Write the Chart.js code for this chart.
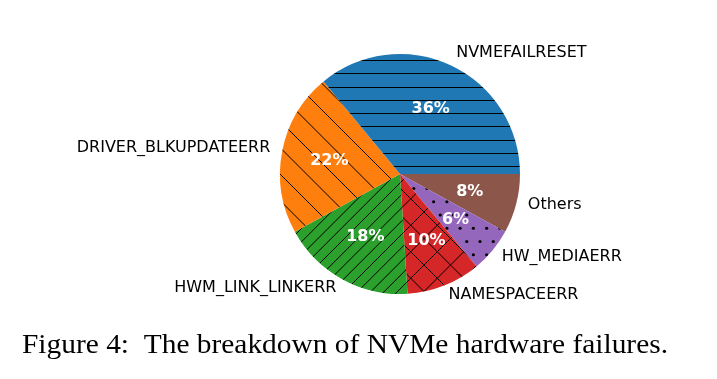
<!DOCTYPE html>
<html>
<head>
<meta charset="utf-8">
<script src="https://cdn.jsdelivr.net/npm/chart.js@4.4.1/dist/chart.umd.min.js"></script>
<style>
  html, body { margin: 0; padding: 0; background: #ffffff; }
  #wrap { width: 717px; height: 379px; position: relative; }
</style>
</head>
<body>
<div id="wrap"><canvas id="pieChart" width="717" height="379"></canvas></div>
<script>
// values in matplotlib order (counter-clockwise from 3 o'clock)
const categories = ['NVMEFAILRESET', 'DRIVER_BLKUPDATEERR', 'HWM_LINK_LINKERR', 'NAMESPACEERR', 'HW_MEDIAERR', 'Others'];
const shares = [36, 22, 18, 10, 6, 8];
const sliceColors = ['#1f77b4', '#ff7f0e', '#2ca02c', '#d62728', '#9467bd', '#8c564b'];
const hatches = ['-', '\\', '//', 'x', '.', ''];
const captionText = 'Figure 4:  The breakdown of NVMe hardware failures.';

function makeHatch(color, hatch) {
    if (!hatch) return color;
    const size = 53;
    const step = 13.25;
    const c = document.createElement('canvas');
    c.width = size;
    c.height = size;
    const g = c.getContext('2d');
    g.fillStyle = color;
    g.fillRect(0, 0, size, size);
    g.strokeStyle = '#000000';
    g.fillStyle = '#000000';
    g.lineWidth = 1;
    g.beginPath();
    if (hatch === '-') {
        for (let k = 0; k < 4; k++) {
            const y = Math.round(7 + k * step) + 0.5;
            g.moveTo(0, y);
            g.lineTo(size, y);
        }
    }
    // single diagonal hatches are twice as sparse as the horizontal ones
    if (hatch === '\\' || hatch === 'x') {
        for (let k = -2; k <= 2; k++) {
            const x0 = k * step * 2;
            g.moveTo(x0, 0);
            g.lineTo(x0 + size, size);
        }
    }
    if (hatch === '//') {
        for (let k = -4; k <= 8; k++) {
            const x0 = k * step;
            g.moveTo(x0, size);
            g.lineTo(x0 + size, 0);
        }
    }
    if (hatch === 'x') {
        for (let k = -2; k <= 4; k++) {
            const x0 = k * step * 2;
            g.moveTo(x0, size);
            g.lineTo(x0 + size, 0);
        }
    }
    g.stroke();
    if (hatch === '.') {
        for (let r = 0; r < 4; r++) {
            for (let k = -1; k <= 4; k++) {
                const x = k * step + (r % 2 ? step / 2 : 0) + 3;
                const y = r * step + 3;
                g.beginPath();
                g.arc(x, y, 1.6, 0, Math.PI * 2);
                g.fill();
            }
        }
    }
    return g.createPattern(c, 'repeat');
}

// Chart.js goes clockwise, so feed the slices reversed and start at 3 o'clock
const order = categories.map((_, i) => i).reverse();

const pieLabels = {
    id: 'pieLabels',
    afterDraw(chart) {
        const ctx = chart.ctx;
        const meta = chart.getDatasetMeta(0);
        ctx.save();
        meta.data.forEach((arc, j) => {
            const i = order[j];
            const mid = (arc.startAngle + arc.endAngle) / 2;
            const r = arc.outerRadius;
            const cos = Math.cos(mid);
            const sin = Math.sin(mid);
            // percentage inside
            ctx.font = 'bold 16px "DejaVu Sans"';
            ctx.fillStyle = '#ffffff';
            ctx.textAlign = 'center';
            ctx.textBaseline = 'middle';
            ctx.fillText(shares[i] + '%', arc.x + 0.6 * r * cos, arc.y + 0.6 * r * sin);
            // category outside
            ctx.font = '16px "DejaVu Sans"';
            ctx.fillStyle = '#000000';
            ctx.textAlign = cos >= 0 ? 'left' : 'right';
            ctx.fillText(categories[i], arc.x + 1.1 * r * cos, arc.y + 1.1 * r * sin - 1.5);
        });
        // caption
        ctx.font = '27px "Liberation Serif"';
        ctx.textAlign = 'left';
        ctx.textBaseline = 'alphabetic';
        const w = ctx.measureText(captionText).width;
        ctx.translate(22, 353);
        ctx.scale(646 / w, 1);
        ctx.fillText(captionText, 0, 0);
        ctx.restore();
    }
};

new Chart(document.getElementById('pieChart').getContext('2d'), {
    type: 'pie',
    data: {
        labels: order.map(i => categories[i]),
        datasets: [{
            data: order.map(i => shares[i]),
            backgroundColor: order.map(i => makeHatch(sliceColors[i], hatches[i])),
            borderWidth: 0,
            hoverOffset: 0
        }]
    },
    options: {
        responsive: false,
        animation: false,
        rotation: 90,
        events: [],
        layout: { padding: { left: 280, right: 197, top: 54, bottom: 85 } },
        plugins: {
            legend: { display: false },
            tooltip: { enabled: false }
        }
    },
    plugins: [pieLabels]
});
</script>
</body>
</html>
